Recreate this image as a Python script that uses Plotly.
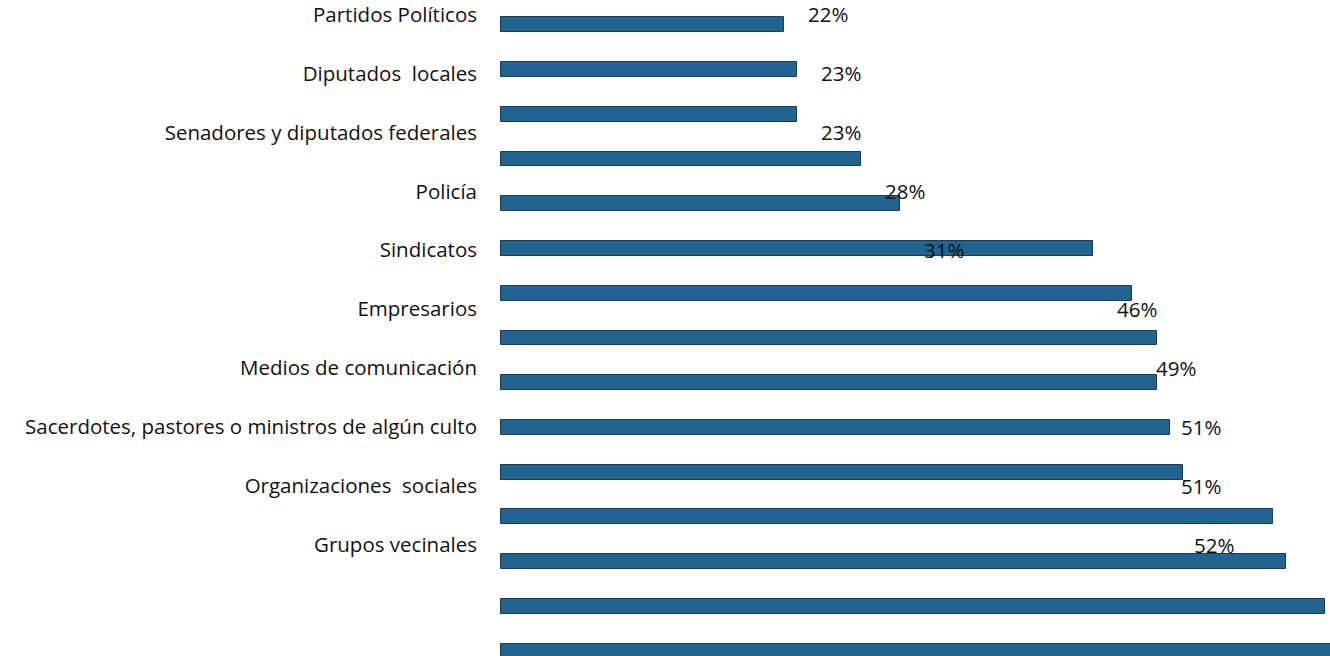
import plotly.graph_objects as go

# Bar values (15 bars, top to bottom), in percent
bar_values = [22, 23, 23, 28, 31, 46, 49, 51, 51, 52, 53, 60, 61, 64, 66]
# Category labels (only the first 10 bars are labelled in the original)
categories = [
    "Partidos Políticos",
    "Diputados  locales",
    "Senadores y diputados federales",
    "Policía",
    "Sindicatos",
    "Empresarios",
    "Medios de comunicación",
    "Sacerdotes, pastores o ministros de algún culto",
    "Organizaciones  sociales",
    "Grupos vecinales",
]
label_values = bar_values[:len(categories)]

FONT = "Open Sans"
FS = 20.5
W, H = 1330, 656

fig = go.Figure()
fig.add_trace(go.Bar(
    x=bar_values,
    y=list(range(len(bar_values))),
    orientation="h",
    width=0.333,
    marker=dict(color="#21648f", line=dict(color="#1a3a55", width=1)),
    hoverinfo="x",
    showlegend=False,
))
# invisible trace to host the category axis for the labels
fig.add_trace(go.Scatter(
    x=label_values,
    y=categories,
    yaxis="y2",
    mode="markers",
    marker=dict(opacity=0),
    showlegend=False,
    hoverinfo="skip",
))

for v, c in zip(label_values, categories):
    fig.add_annotation(
        x=v, y=c, xref="x", yref="y2",
        text=f"{v}%", showarrow=False,
        xanchor="left", yanchor="middle", xshift=22,
        font=dict(family=FONT, size=FS, color="#111111"),
    )

fig.update_layout(
    width=W, height=H,
    margin=dict(l=500, r=0, t=0, b=0),
    paper_bgcolor="white", plot_bgcolor="white",
    font=dict(family=FONT, size=FS, color="#111111"),
    bargap=0,
    xaxis=dict(range=[-0.05, 64.4], visible=False, fixedrange=True),
    yaxis=dict(range=[14.111, -0.444], visible=False, fixedrange=True),
    yaxis2=dict(
        overlaying="y", side="left", type="category",
        categoryorder="array", categoryarray=categories,
        range=[10.88, -0.16],
        showgrid=False, zeroline=False, showline=False,
        ticks="", ticklabelstandoff=22,
        tickfont=dict(family=FONT, size=FS, color="#111111"),
    ),
)

fig.write_html("out.html")
